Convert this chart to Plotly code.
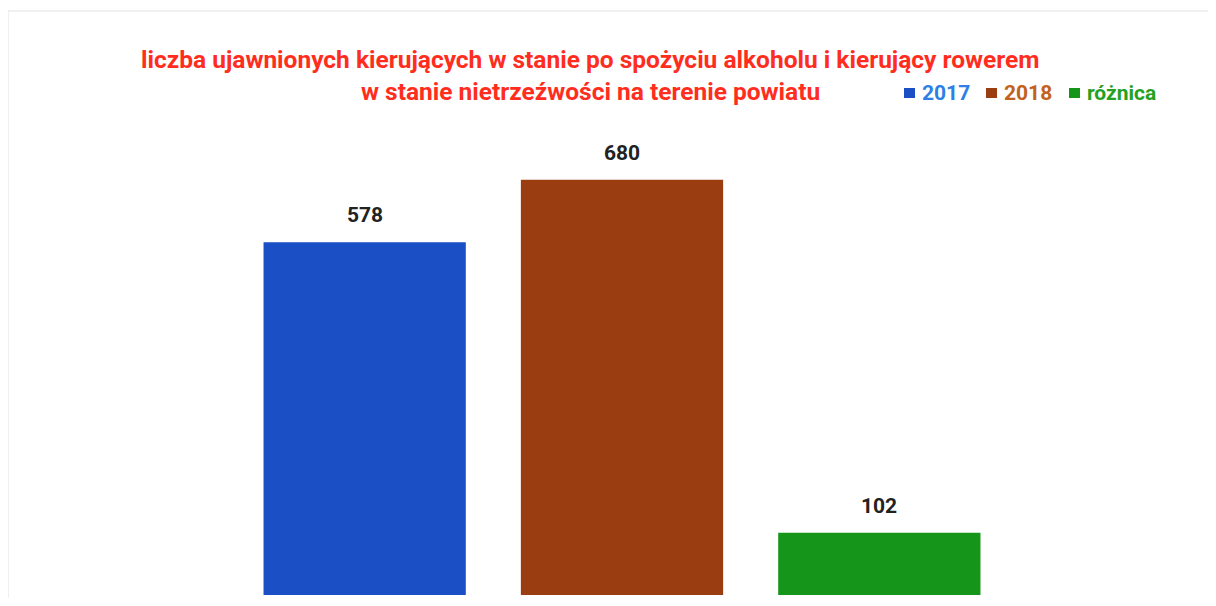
import plotly.graph_objects as go

categories = ["2017", "2018", "różnica"]
values = [578, 680, 102]
bar_colors = ["#1A4FC6", "#9A3D10", "#15961B"]
legend_text_colors = ["#2E7FE6", "#C2621C", "#25A121"]
title_lines = [
    "liczba ujawnionych kierujących w stanie po spożyciu alkoholu i kierujący rowerem",
    "w stanie nietrzeźwości na terenie powiatu",
]

OFF = 8                      # page body margin
W, H = 1216 - 2 * OFF, 606 - 2 * OFF
L, R = 236, 1008             # plot area in page px
T, B = 100, 595

def px(x):
    return (x - L) / (R - L)

def py(y):
    return (B - y) / (B - T)

fig = go.Figure()
for i, (cat, val) in enumerate(zip(categories, values)):
    fig.add_trace(go.Bar(
        x=[cat], y=[val], name=cat,
        marker=dict(color=bar_colors[i], line=dict(width=0)),
        width=0.786, showlegend=False,
    ))

annotations = []
# value labels (x given as category index on the category axis)
for i, val in enumerate(values):
    annotations.append(dict(
        text=f"<b>{val}</b>", x=i, y=val, xref="x", yref="y",
        yanchor="middle", yshift=27, showarrow=False,
        font=dict(family="Roboto", size=21, color="#222222"),
    ))
# title
for j, line in enumerate(title_lines):
    annotations.append(dict(
        text=f"<b>{line}</b>", x=px(590), y=py(60 + j * 31),
        xref="paper", yref="paper", xanchor="center", yanchor="middle",
        showarrow=False, font=dict(family="Roboto", size=24.5, color="#FF2D1E"),
    ))
# legend (manual)
legend_sq_x = [904, 986, 1069]
legend_txt_x = [920, 1002, 1085]
shapes = []
for i, cat in enumerate(categories):
    shapes.append(dict(type="rect", xref="paper", yref="paper",
                       x0=px(legend_sq_x[i]), x1=px(legend_sq_x[i] + 11),
                       y0=py(98), y1=py(88),
                       fillcolor=bar_colors[i], line=dict(width=0)))
    annotations.append(dict(
        text=f"<b>{cat}</b>", x=px(legend_txt_x[i]), y=py(93),
        xref="paper", yref="paper", xanchor="left", yanchor="middle",
        showarrow=False, font=dict(family="Roboto", size=21, color=legend_text_colors[i]),
    ))
shapes.append(dict(type="rect", xref="paper", yref="paper",
                   x0=px(8), x1=px(1210), y0=py(612), y1=py(11),
                   line=dict(color="#E2E2E2", width=1)))

fig.update_layout(
    width=W, height=H,
    margin=dict(l=L - OFF, r=(W + OFF) - R, t=T - OFF, b=(H + OFF) - B),
    paper_bgcolor="white", plot_bgcolor="white",
    barmode="overlay",
    showlegend=False,
    xaxis=dict(visible=False, type="category", categoryorder="array",
               categoryarray=categories, range=[-0.5, 2.5]),
    yaxis=dict(visible=False, range=[0, (B - T) / 0.6105]),
    annotations=annotations,
    shapes=shapes,
)

fig.write_html("out.html")
